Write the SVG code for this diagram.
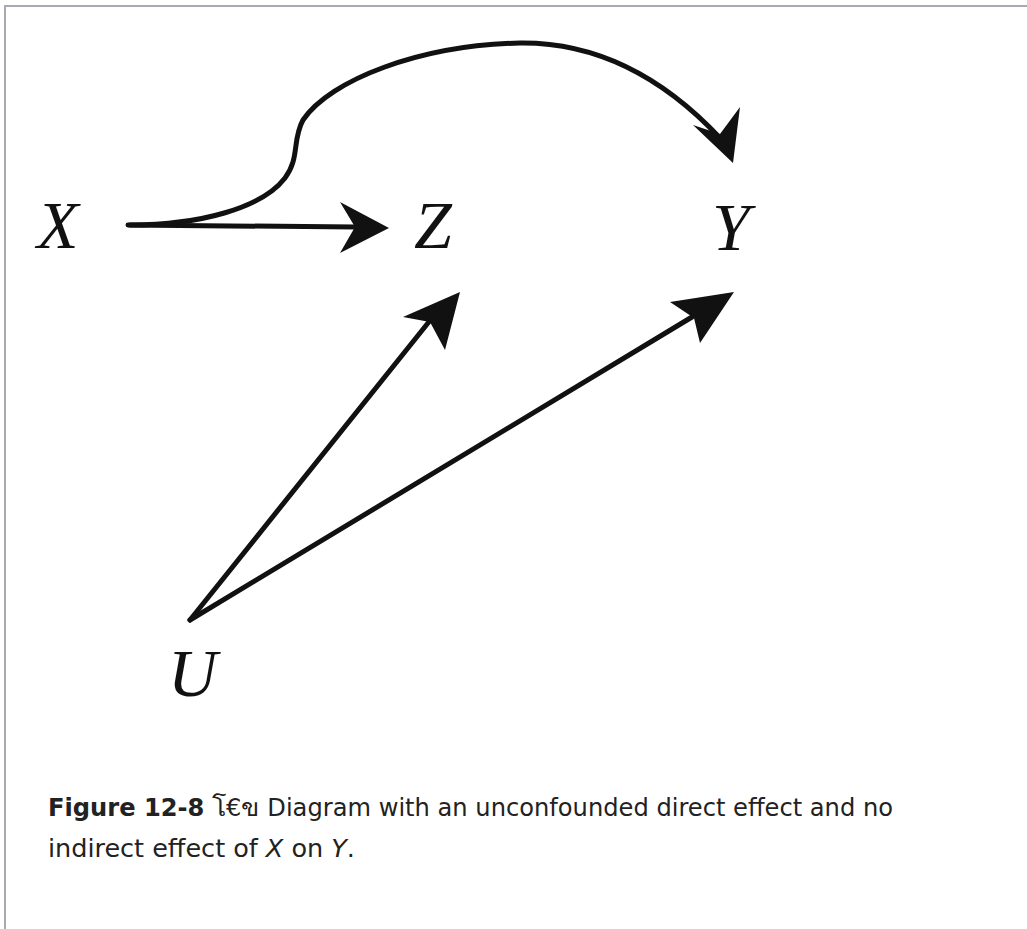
<svg xmlns="http://www.w3.org/2000/svg" width="1027" height="929" viewBox="0 0 1027 929">
<style>
.lbl{font-family:"Liberation Serif",serif;font-style:italic;font-size:68px;fill:#111}
.edge{fill:none;stroke:#111;stroke-width:5;stroke-linecap:round}
.head{fill:#111;stroke:none}
.cap{font-family:"DejaVu Sans Condensed","DejaVu Sans",sans-serif;font-stretch:condensed;font-size:25px;fill:#222}
</style>
<rect x="0" y="0" width="1027" height="929" fill="#fff"/>
<line x1="4" y1="6" x2="1027" y2="6" stroke="#a9a9b6" stroke-width="2"/>
<line x1="5" y1="6" x2="5" y2="929" stroke="#a9a9b6" stroke-width="2"/>
<g id="connectors">
<path class="edge" d="M128,225 L355,227"/>
<polygon class="head" points="389,228 340,202 355,227 340,253"/>
<path class="edge" stroke-width="4" d="M130,225 C200,225 262,208 285,178 C300,158 292,140 303,120 C330,80 420,45 520,43 C610,42 675,90 720,138"/>
<polygon class="head" points="733,163 693,125 720,134 740,107"/>
<path class="edge" d="M190,620 L432,318"/>
<polygon class="head" points="460,292 403,317 430,322 445,350"/>
<path class="edge" d="M190,620 L692,317"/>
<polygon class="head" points="734,292 670,302 694,318 700,343"/>
</g>
<g id="node-X"><text class="lbl" x="37" y="248">X</text></g>
<g id="node-Z"><text class="lbl" x="414" y="248">Z</text></g>
<g id="node-Y"><text class="lbl" x="712" y="250">Y</text></g>
<g id="node-U"><text class="lbl" x="168" y="696">U</text></g>
<g id="caption">
<text class="cap" x="48" y="816" textLength="845" lengthAdjust="spacingAndGlyphs"><tspan font-weight="bold">Figure 12-8</tspan> โ€ข Diagram with an unconfounded direct effect and no</text>
<text class="cap" x="48" y="857" textLength="307" lengthAdjust="spacingAndGlyphs">indirect effect of <tspan font-style="italic">X</tspan> on <tspan font-style="italic">Y</tspan>.</text>
</g>
</svg>
